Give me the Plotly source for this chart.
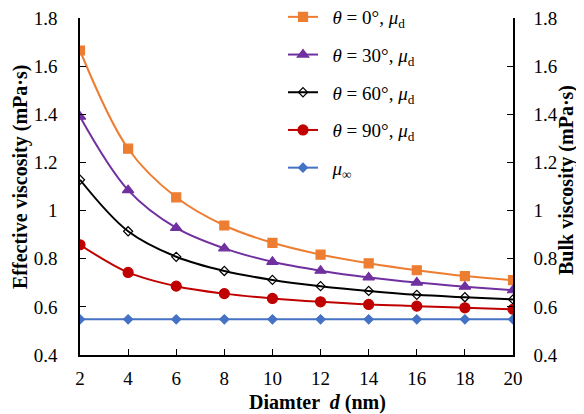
import plotly.graph_objects as go

d = [2, 4, 6, 8, 10, 12, 14, 16, 18, 20]
mu_0 = [1.665, 1.257, 1.055, 0.938, 0.866, 0.817, 0.781, 0.752, 0.728, 0.711]
mu_30 = [1.39, 1.085, 0.928, 0.843, 0.787, 0.750, 0.722, 0.701, 0.684, 0.669]
mu_60 = [1.128, 0.914, 0.808, 0.749, 0.712, 0.686, 0.666, 0.650, 0.640, 0.631]
mu_90 = [0.858, 0.743, 0.686, 0.655, 0.635, 0.621, 0.610, 0.603, 0.596, 0.590]
mu_inf = [0.548] * 10

y_ticks = [0.4, 0.6, 0.8, 1.0, 1.2, 1.4, 1.6, 1.8]
y_tick_text = ["0.4", "0.6", "0.8", "1", "1.2", "1.4", "1.6", "1.8"]
x_ticks = d

names = [
    "  <i>θ</i> = 0°, <i>μ</i><sub>d</sub>",
    "  <i>θ</i> = 30°, <i>μ</i><sub>d</sub>",
    "  <i>θ</i> = 60°, <i>μ</i><sub>d</sub>",
    "  <i>θ</i> = 90°, <i>μ</i><sub>d</sub>",
    "  <i>μ</i><sub>∞</sub>",
]
series = [mu_0, mu_30, mu_60, mu_90, mu_inf]
colors = ["#ED7D31", "#7030A0", "#000000", "#C00000", "#4472C4"]
symbols = ["square", "triangle-up", "diamond-open", "circle", "diamond"]
sizes = [9, 10, 7, 10, 7]

fig = go.Figure()
for i, (n, s, c, sym, sz) in enumerate(zip(names, series, colors, symbols, sizes)):
    fig.add_trace(go.Scatter(
        x=d, y=s, name=n, mode="lines+markers", legendgroup=f"g{i}",
        line=dict(color=c, width=2, shape="spline"),
        marker=dict(symbol=sym, size=sz, color=c,
                    line=dict(width=1.2, color=c)),
    ))
# invisible trace for right axis
fig.add_trace(go.Scatter(x=[d[0]], y=[mu_inf[0]], yaxis="y2", showlegend=False,
                         mode="markers", marker=dict(opacity=0), hoverinfo="skip"))

tickfont = dict(family="Liberation Serif", size=19, color="black")
titlefont = dict(family="Liberation Serif", size=20, color="black")

# page has an 8px body margin: figure is offset by (8, 8)
OFF = 8
W, H = 584 - OFF, 414 - OFF
L, T = 80 - OFF, 18 - OFF
R = W - (513 - OFF)
B = H - (355 - OFF)
pw, ph = W - L - R, H - T - B


def px(xpage):
    return (xpage - OFF - L) / pw


def py(ypage):
    return (H - B - (ypage - OFF)) / ph


fig.update_layout(
    width=W, height=H,
    margin=dict(l=L, r=R, t=T, b=B, autoexpand=False),
    plot_bgcolor="white", paper_bgcolor="white",
    showlegend=True,
    legend=dict(x=px(283), y=py(-2), xanchor="left", yanchor="top",
                font=dict(family="Liberation Serif", size=19, color="black"),
                bgcolor="rgba(0,0,0,0)", tracegroupgap=10, itemwidth=30),
    xaxis=dict(range=[2, 20], tickvals=x_ticks, ticks="inside", ticklen=6,
               showgrid=False, zeroline=False, showline=True, linecolor="black",
               linewidth=1.5, tickcolor="black", tickfont=tickfont,
               ticklabelstandoff=5, automargin=False, ticklabeloverflow="allow"),
    yaxis=dict(range=[0.4, 1.8], tickvals=y_ticks, ticktext=y_tick_text,
               ticks="inside", ticklen=6, showgrid=False, zeroline=False,
               showline=True, linecolor="black", linewidth=1.5, tickcolor="black",
               tickfont=tickfont, ticklabelstandoff=17, automargin=False,
               ticklabeloverflow="allow"),
    yaxis2=dict(range=[0.4, 1.8], tickvals=y_ticks, ticktext=y_tick_text,
                overlaying="y", side="right", ticks="inside", ticklen=6,
                showgrid=False, zeroline=False, showline=True, linecolor="black",
                linewidth=1.5, tickcolor="black", tickfont=tickfont,
                ticklabelstandoff=15, automargin=False, ticklabeloverflow="allow"),
    annotations=[
        dict(text="<b>Diamter  <i>d</i> (nm)</b>", xref="paper", yref="paper",
             x=px(317), y=py(402), showarrow=False, font=titlefont,
             xanchor="center", yanchor="middle"),
        dict(text="<b>Effective viscosity (mPa·s)</b>", xref="paper", yref="paper",
             x=px(20), y=py(177), showarrow=False, font=titlefont, textangle=-90,
             xanchor="center", yanchor="middle"),
        dict(text="<b>Bulk viscosity (mPa·s)</b>", xref="paper", yref="paper",
             x=px(567), y=py(180), showarrow=False, font=titlefont, textangle=-90,
             xanchor="center", yanchor="middle"),
    ],
)

fig.write_html("out.html")
